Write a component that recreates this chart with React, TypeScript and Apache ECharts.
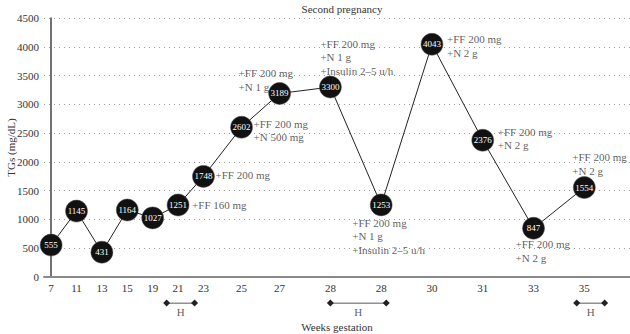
import React, { useEffect, useRef } from "react";
import * as echarts from "echarts";

// Gestational week of each TG measurement
const weekLabels = ["7", "11", "13", "15", "19", "21", "23", "25", "27", "28", "28", "30", "31", "33", "35"];
// Horizontal slot of each measurement along the x axis
const slotPositions = [0, 1, 2, 3, 4, 5, 6, 7.5, 9, 11, 13, 15, 17, 19, 21];
// Serum triglycerides (mg/dL)
const tgValues = [555, 1145, 431, 1164, 1027, 1251, 1748, 2602, 3189, 3300, 1253, 4043, 2376, 847, 1554];
// Treatment given at each measurement
const treatmentNotes = [
  "", "", "", "", "",
  "+FF 160 mg",
  "+FF 200 mg",
  "+FF 200 mg\n+N 500 mg",
  "+FF 200 mg\n+N 1 g",
  "+FF 200 mg\n+N 1 g\n+Insulin 2\u20135 u/h",
  "+FF 200 mg\n+N 1 g\n+Insulin 2\u20135 u/h",
  "+FF 200 mg\n+N 2 g",
  "+FF 200 mg\n+N 2 g",
  "+FF 200 mg\n+N 2 g",
  "+FF 200 mg\n+N 2 g",
];
// Hospital stays, in x-axis slot units
const hospitalSpans: [number, number][] = [
  [4.55, 5.65],
  [11, 13.2],
  [20.7, 21.8],
];

const FONT = "'Liberation Serif', 'DejaVu Serif', serif";
const INK = "#222";

// Pixel offset (left, top) of each note's text block from its point
const NOTE_OFFSETS: Record<number, [number, number]> = {
  5: [14, -7],
  6: [12, -8],
  7: [12, -10],
  8: [-41, -27],
  9: [-10, -50],
  10: [-29, 11],
  11: [15, -12],
  12: [15, -15],
  13: [-18, 9],
  14: [-12, -37],
};

const X_MIN = -0.28;
const X_MAX = 22.8;

export default function App() {
  const ref = useRef<HTMLDivElement>(null);

  useEffect(() => {
    if (!ref.current) return;
    const chart = echarts.init(ref.current, undefined, { renderer: "svg" });

    const points = tgValues.map((v, i) => [slotPositions[i], v]);

    const noteData = treatmentNotes
      .map((note, i) => ({ note, i }))
      .filter((d) => d.note !== "")
      .map(({ note, i }) => {
        const [dx, dy] = NOTE_OFFSETS[i] || [12, -7];
        return {
          value: [slotPositions[i], tgValues[i]],
          note,
          label: { position: [dx + 1, dy + 1] },
        };
      });

    const hSeries: any[] = hospitalSpans.map((span) => ({
      type: "line",
      xAxisIndex: 1,
      yAxisIndex: 1,
      data: [
        [span[0], 1],
        [span[1], 1],
      ],
      symbol: "diamond",
      symbolSize: 7,
      itemStyle: { color: INK },
      lineStyle: { color: INK, width: 1 },
      silent: true,
    }));

    hSeries.push({
      type: "scatter",
      xAxisIndex: 1,
      yAxisIndex: 1,
      data: hospitalSpans.map((s) => [(s[0] + s[1]) / 2, 0]),
      symbolSize: 2,
      itemStyle: { color: "transparent" },
      label: {
        show: true,
        position: "inside",
        formatter: "H",
        color: "#333",
        fontSize: 11,
        fontFamily: FONT,
      },
      silent: true,
    });

    chart.setOption({
      animation: false,
      backgroundColor: "#fff",
      title: {
        text: "Second pregnancy",
        left: 337,
        top: -2,
        textAlign: "center",
        textStyle: { fontSize: 11, fontWeight: "normal", color: "#333", fontFamily: FONT },
      },
      grid: [
        { left: 44, right: 0, top: 18, bottom: 57, containLabel: false, outerBoundsMode: "none" },
        { left: 44, right: 0, top: 303, height: 9, containLabel: false, outerBoundsMode: "none" },
      ],
      xAxis: [
        {
          type: "value",
          gridIndex: 0,
          min: X_MIN,
          max: X_MAX,
          name: "Weeks gestation",
          nameLocation: "middle",
          nameGap: 44,
          nameMoveOverlap: false,
          nameTextStyle: { fontSize: 11, color: "#333", fontFamily: FONT },
          axisLine: { lineStyle: { color: "#8a8a8a", width: 2 } },
          axisTick: { show: false },
          splitLine: { show: false },
          axisLabel: {
            customValues: slotPositions,
            margin: 5,
            fontSize: 11,
            color: "#333",
            fontFamily: FONT,
            formatter: (v: number) => {
              const idx = slotPositions.findIndex((p) => Math.abs(p - v) < 1e-6);
              return idx >= 0 ? weekLabels[idx] : "";
            },
          },
        },
        {
          type: "value",
          gridIndex: 1,
          min: X_MIN,
          max: X_MAX,
          show: false,
        },
      ],
      yAxis: [
        {
          type: "value",
          gridIndex: 0,
          min: 0,
          max: 4500,
          interval: 500,
          name: "TGs (mg/dL)",
          nameLocation: "middle",
          nameGap: 28,
          nameMoveOverlap: false,
          nameRotate: 90,
          nameTextStyle: { fontSize: 11, color: "#333", fontFamily: FONT },
          axisLine: { show: true, lineStyle: { color: "#444", width: 1.5 } },
          axisTick: { show: false },
          axisLabel: {
            margin: 5,
            fontSize: 11,
            color: "#333",
            fontFamily: FONT,
            formatter: (v: number) => String(v),
          },
          splitLine: {
            show: true,
            lineStyle: { color: "#9a9a9a", type: [1, 4], width: 1 },
          },
        },
        {
          type: "value",
          gridIndex: 1,
          min: 0,
          max: 1,
          show: false,
        },
      ],
      series: [
        {
          type: "scatter",
          data: noteData,
          symbolSize: 2,
          itemStyle: { color: "transparent" },
          z: 1,
          silent: true,
          label: {
            show: true,
            formatter: (p: any) => p.data.note,
            color: "#333",
            fontSize: 11,
            lineHeight: 13.5,
            fontFamily: FONT,
            align: "left",
            verticalAlign: "top",
          },
        },
        {
          type: "line",
          data: points,
          z: 3,
          symbol: "circle",
          symbolSize: 22,
          itemStyle: { color: "#111", borderColor: "#555", borderWidth: 0.5 },
          lineStyle: { color: INK, width: 1 },
          label: {
            show: true,
            position: "inside",
            formatter: (p: any) => String(p.value[1]),
            color: "#fff",
            fontSize: 9,
            fontFamily: FONT,
          },
          silent: true,
        },
        ...hSeries,
      ],
    });

    return () => chart.dispose();
  }, []);

  return (
    <div
      ref={ref}
      style={{ position: "fixed", left: 0, top: 0, width: 630, height: 334, background: "#fff" }}
    />
  );
}
